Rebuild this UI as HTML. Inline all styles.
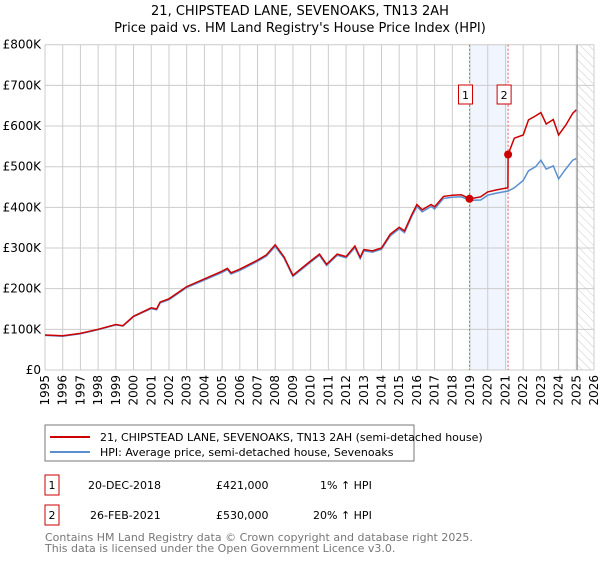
<!DOCTYPE html>
<html><head><meta charset="utf-8"><style>
body{margin:0;background:#fff;font-family:"Liberation Sans","DejaVu Sans",sans-serif}
svg text{font-family:"DejaVu Sans","Liberation Sans",sans-serif}
</style></head><body>
<svg id="c" width="600" height="560" xmlns="http://www.w3.org/2000/svg">
<defs><pattern id="hatch" width="6" height="6" patternUnits="userSpaceOnUse" patternTransform="rotate(-45)"><line x1="0" y1="0" x2="0" y2="6" stroke="#ccc" stroke-width="1"/></pattern></defs>
<text x="300" y="15" text-anchor="middle" font-size="13">21, CHIPSTEAD LANE, SEVENOAKS, TN13 2AH</text>
<text x="300" y="32" text-anchor="middle" font-size="13">Price paid vs. HM Land Registry's House Price Index (HPI)</text>
<g id="plot"></g>
<rect x="45" y="425" width="369" height="36" fill="#fff" stroke="#777"/>
<line x1="50" y1="437" x2="90" y2="437" stroke="#cc0000" stroke-width="2"/>
<text x="100" y="441" font-size="11">21, CHIPSTEAD LANE, SEVENOAKS, TN13 2AH (semi-detached house)</text>
<line x1="50" y1="452" x2="90" y2="452" stroke="#5b8fd0" stroke-width="2"/>
<text x="100" y="456" font-size="11">HPI: Average price, semi-detached house, Sevenoaks</text>
<rect x="45" y="475" width="14" height="20" fill="#fff" stroke="#cc0000"/>
<text x="52" y="489" text-anchor="middle" font-size="11">1</text>
<text x="88" y="489" font-size="11">20-DEC-2018</text>
<text x="216" y="489" font-size="11">£421,000</text>
<text x="320" y="489" font-size="11">1% ↑ HPI</text>
<rect x="45" y="505" width="14" height="20" fill="#fff" stroke="#cc0000"/>
<text x="52" y="519" text-anchor="middle" font-size="11">2</text>
<text x="90" y="519" font-size="11">26-FEB-2021</text>
<text x="216" y="519" font-size="11">£530,000</text>
<text x="313" y="519" font-size="11">20% ↑ HPI</text>
<text x="45" y="541" font-size="11" fill="#777">Contains HM Land Registry data © Crown copyright and database right 2025.</text>
<text x="45" y="552" font-size="11" fill="#777">This data is licensed under the Open Government Licence v3.0.</text>
</svg>
<script>
const yTicks=[0,100,200,300,400,500,600,700,800];
const yLabels=["£0","£100K","£200K","£300K","£400K","£500K","£600K","£700K","£800K"];
const xYears=[1995,1996,1997,1998,1999,2000,2001,2002,2003,2004,2005,2006,2007,2008,2009,2010,2011,2012,2013,2014,2015,2016,2017,2018,2019,2020,2021,2022,2023,2024,2025,2026];
const hpiT=[1995,1996,1997,1998,1999,1999.4,2000,2001,2001.3,2001.5,2002,2003,2004,2005,2005.3,2005.5,2006,2007,2007.5,2008,2008.5,2009,2010,2010.5,2010.9,2011.5,2012,2012.5,2012.8,2013,2013.5,2014,2014.5,2015,2015.3,2015.7,2016,2016.3,2016.8,2017,2017.5,2018,2018.5,2019,2019.6,2020,2020.5,2021,2021.14,2021.15,2021.5,2022,2022.3,2022.7,2023,2023.3,2023.7,2024,2024.4,2024.8,2025];
const hpiV=[85,83,89,99,111,108,131,151,148,165,173,203,221,240,247,236,245,267,280,304,275,230,265,282,257,282,276,301,274,293,290,297,330,347,338,377,402,389,402,396,422,425,426,417,418,430,435,439,440,440,448,466,490,500,516,494,502,470,494,516,520];
const redV=[86,84,90,100,112,109,132,153,150,167,175,205,224,243,250,239,248,270,283,308,278,233,268,285,260,285,279,305,277,296,293,300,334,351,342,381,407,394,407,401,427,430,431,421,426,438,443,447,448,530,570,578,615,625,633,605,616,578,602,631,640];
const saleT=[2018.97,2021.15];
const saleV=[421,530];
const X0=45,X1=594,Y0=370,Y1=44.7;
const xs=t=>X0+(t-1995)/(2026-1995)*(X1-X0);
const ys=v=>Y0-v/800*(Y0-Y1);
const NS="http://www.w3.org/2000/svg";
const g=document.getElementById('plot');
function mk(tag,attrs){const e=document.createElementNS(NS,tag);for(const k in attrs)e.setAttribute(k,attrs[k]);g.appendChild(e);return e;}
let e;
e=mk('rect',{x:xs(saleT[0]),y:Y1,width:xs(saleT[1])-xs(saleT[0]),height:Y0-Y1,fill:'#eef3fc',opacity:0.8});


e=mk('rect',{x:xs(2025),y:Y1,width:X1-xs(2025),height:Y0-Y1,fill:'url(#hatch)'});


xYears.forEach(y=>{
 e=mk('line',{x1:xs(y),x2:xs(y),y1:Y1,y2:Y0,stroke:'#ccc','stroke-width':1});
 
 
 const tx=mk('text',{x:0,y:0,'font-size':12,'text-anchor':'end',transform:`translate(${xs(y)+4},375) rotate(-90)`});
 tx.textContent=y;
 
 
});
yTicks.forEach((v,i)=>{
 e=mk('line',{x1:X0,x2:X1,y1:ys(v),y2:ys(v),stroke:'#ccc','stroke-width':1});
 
 
 const tx=mk('text',{x:41,y:ys(v)+4,'font-size':12,'text-anchor':'end'});
 tx.textContent=yLabels[i];
 
 
});
e=mk('line',{x1:xs(2025.05),x2:xs(2025.05),y1:Y1,y2:Y0,stroke:'#888','stroke-width':1});


saleT.forEach((t,i)=>{
 e=mk('line',{x1:xs(t),x2:xs(t),y1:Y1,y2:Y0,stroke:'#e06060','stroke-width':1,'stroke-dasharray':'2,2'});
 
 
});
const pts=(T,V)=>T.map((t,i)=>xs(t).toFixed(1)+','+ys(V[i]).toFixed(1)).join(' ');
e=mk('polyline',{points:pts(hpiT,hpiV),fill:'none',stroke:'#5b8fd0','stroke-width':1.5});


e=mk('polyline',{points:pts(hpiT,redV),fill:'none',stroke:'#cc0000','stroke-width':1.5});


saleT.forEach((t,i)=>{
 e=mk('circle',{cx:xs(t),cy:ys(saleV[i]),r:4,fill:'#cc0000'});
 
 
 const bx=xs(t)-11;
 e=mk('rect',{x:bx,y:85,width:14,height:19,fill:'#fff',stroke:'#cc0000'});
 
 
 const tx=mk('text',{x:bx+7,y:99,'font-size':11,'text-anchor':'middle'});
 tx.textContent=String(i+1);
 
 
});
</script>
</body></html>
